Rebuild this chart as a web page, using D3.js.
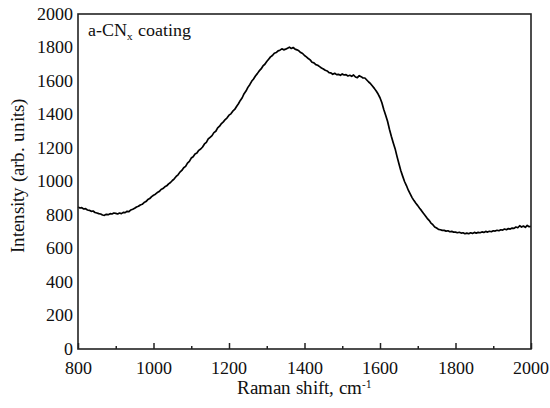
<!DOCTYPE html>
<html>
<head>
<meta charset="utf-8">
<script src="https://cdn.jsdelivr.net/npm/d3@7"></script>
<style>
  @font-face {
    font-family: "ChartSerif";
    src: local("Liberation Serif"), local("LiberationSerif"), local("LiberationSerif-Regular");
  }
  .serif { font-family: "ChartSerif", "Liberation Serif", monospace; }
</style>
</head>
<body style="margin:0">
<svg id="chart" width="550" height="408"></svg>
<script>
// Raman shift (cm^-1), sampled every 5 cm^-1 from 800 to 2000
const shiftStart = 800;
const shiftStep = 5;
const intensity = [
  // 800 - 1000
  848, 842, 844, 836, 838, 830, 828, 822, 824, 815,
  812, 808, 806, 800, 798, 804, 802, 808, 806, 812,
  810, 806, 812, 808, 816, 814, 822, 820, 830, 834,
  840, 848, 852, 860, 864, 874, 880, 892, 898, 910,
  918,
  // 1005 - 1200
  924, 934, 940, 952, 958, 968, 974, 986, 994, 1006,
  1016, 1030, 1040, 1056, 1066, 1082, 1090, 1110, 1120, 1140,
  1148, 1164, 1170, 1186, 1194, 1206, 1224, 1234, 1254, 1264,
  1274, 1292, 1300, 1320, 1330, 1346, 1356, 1370, 1380, 1396,
  // 1205 - 1400
  1404, 1420, 1430, 1448, 1464, 1484, 1500, 1524, 1540, 1562,
  1578, 1598, 1612, 1630, 1644, 1660, 1672, 1690, 1700, 1716,
  1730, 1744, 1752, 1766, 1770, 1780, 1784, 1792, 1786, 1790,
  1796, 1802, 1794, 1800, 1790, 1786, 1780, 1770, 1764, 1752,
  // 1405 - 1600
  1744, 1734, 1726, 1712, 1708, 1698, 1694, 1686, 1678, 1672,
  1664, 1660, 1650, 1648, 1640, 1646, 1638, 1640, 1634, 1642,
  1636, 1638, 1630, 1634, 1628, 1636, 1624, 1620, 1632, 1626,
  1618, 1618, 1606, 1594, 1584, 1570, 1556, 1540, 1522, 1500,
  // 1605 - 1800
  1470, 1430, 1396, 1360, 1312, 1270, 1232, 1196, 1150, 1108,
  1066, 1032, 1000, 976, 948, 926, 904, 886, 870, 856,
  840, 826, 810, 796, 780, 768, 752, 742, 728, 722,
  714, 712, 708, 708, 704, 706, 700, 702, 698, 698,
  // 1805 - 2000
  694, 697, 692, 694, 688, 692, 688, 694, 690, 696,
  692, 696, 694, 699, 696, 702, 698, 703, 700, 706,
  704, 709, 706, 712, 710, 716, 712, 719, 716, 722,
  720, 728, 724, 736, 728, 734, 726, 738, 730, 732
];

const xTicks = [800, 1000, 1200, 1400, 1600, 1800, 2000];
const xMinorTicks = [900, 1100, 1300, 1500, 1700, 1900];
const yTicks = [0, 200, 400, 600, 800, 1000, 1200, 1400, 1600, 1800, 2000];

const spectrum = intensity.map((v, i) => ({ shift: shiftStart + i * shiftStep, value: v }));

const svg = d3.select("#chart");
const plot = { left: 78, right: 531, top: 14, bottom: 349 };

const x = d3.scaleLinear().domain([800, 2000]).range([plot.left, plot.right]);
const y = d3.scaleLinear().domain([0, 2000]).range([plot.bottom, plot.top]);

// spectrum trace
svg.append("path")
  .datum(spectrum)
  .attr("fill", "none")
  .attr("stroke", "#000")
  .attr("stroke-width", 1.7)
  .attr("stroke-linejoin", "round")
  .attr("d", d3.line().x(d => x(d.shift)).y(d => y(d.value)));

// plot frame
svg.append("rect")
  .attr("x", plot.left).attr("y", plot.top)
  .attr("width", plot.right - plot.left).attr("height", plot.bottom - plot.top)
  .attr("fill", "none").attr("stroke", "#222").attr("stroke-width", 1.6);

// bottom axis: inward major and minor ticks
const xAxis = svg.append("g").attr("transform", `translate(0,${plot.bottom})`)
  .call(d3.axisBottom(x).tickValues(xTicks).tickSizeInner(-6).tickSizeOuter(0).tickFormat(""));
xAxis.select(".domain").remove();
xAxis.selectAll("line").attr("stroke", "#222").attr("stroke-width", 1.5);

const xMinor = svg.append("g").attr("transform", `translate(0,${plot.bottom})`)
  .call(d3.axisBottom(x).tickValues(xMinorTicks).tickSizeInner(-3).tickSizeOuter(0).tickFormat(""));
xMinor.select(".domain").remove();
xMinor.selectAll("line").attr("stroke", "#222").attr("stroke-width", 1.5);

// tick labels, positioned through the scales
svg.selectAll(".xlab").data(xTicks).enter().append("text")
  .attr("class", "xlab serif")
  .attr("x", d => x(d)).attr("y", 374)
  .attr("text-anchor", "middle")
  .style("font-size", "18px").attr("fill", "#111")
  .text(d => d);

svg.selectAll(".ylab").data(yTicks).enter().append("text")
  .attr("class", "ylab serif")
  .attr("x", plot.left - 5).attr("y", d => y(d)).attr("dy", "0.33em")
  .attr("text-anchor", "end")
  .style("font-size", "18px").attr("fill", "#111")
  .text(d => d);

// axis titles
const xTitle = svg.append("text").attr("class", "serif")
  .attr("x", (plot.left + plot.right) / 2).attr("y", 394)
  .attr("text-anchor", "middle")
  .style("font-size", "19px").attr("fill", "#111");
xTitle.append("tspan").text("Raman shift, cm");
xTitle.append("tspan").attr("dy", -6).style("font-size", "11px").text("-1");

svg.append("text").attr("class", "serif")
  .attr("transform", `translate(24,${(plot.top + plot.bottom) / 2 - 6}) rotate(-90)`)
  .attr("text-anchor", "middle")
  .style("font-size", "19px").attr("fill", "#111")
  .text("Intensity (arb. units)");

// sample label
const label = svg.append("text").attr("class", "serif").attr("x", 88).attr("y", 36)
  .style("font-size", "18px").attr("fill", "#111");
label.append("tspan").text("a-CN");
label.append("tspan").attr("dy", 4).style("font-size", "11px").text("x");
label.append("tspan").attr("dy", -4).text(" coating");
</script>
</body>
</html>
